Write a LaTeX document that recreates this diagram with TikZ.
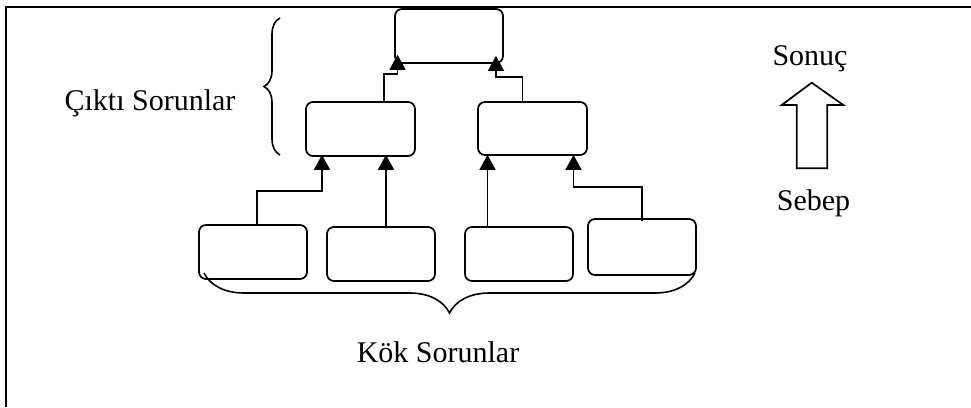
\documentclass[tikz,border=0pt]{standalone}
\usepackage{fontspec}
\setmainfont{Liberation Serif}
\usetikzlibrary{arrows.meta,decorations.pathreplacing}
\begin{document}
\begin{tikzpicture}[x=1pt,y=-1pt,
  pbox/.style={draw,line width=1.7pt,rounded corners=7pt,inner sep=0pt},
  conn/.style={line width=1.6pt,-{Triangle[width=16pt,length=15pt]}},
  brc/.style={line width=1.6pt,decorate,decoration={brace,amplitude=#1}},
  lbl/.style={font=\fontsize{30}{36}\selectfont,anchor=base,inner sep=0pt}]
\useasboundingbox (0,0) rectangle (971,407);
% frame (top and left visible)
\draw[line width=2.2pt] (5.8,407) -- (5.8,7) -- (971,7);
% boxes
\node[pbox,minimum width=108pt,minimum height=54pt] (top) at (449,36) {};
\node[pbox,minimum width=109pt,minimum height=54pt] (ml) at (360.5,129) {};
\node[pbox,minimum width=109pt,minimum height=53pt] (mr) at (532.5,128.5) {};
\node[pbox,minimum width=108pt,minimum height=54pt] (b1) at (253,252) {};
\node[pbox,minimum width=108pt,minimum height=54pt] (b2) at (381,254) {};
\node[pbox,minimum width=108pt,minimum height=54pt] (b3) at (519,254) {};
\node[pbox,minimum width=108pt,minimum height=56pt] (b4) at (642,247) {};
% connectors
\draw[conn,shorten >=-2pt] ([xshift=4pt,yshift=-2pt]b1.north) -- ++(0,-35) -| ([xshift=-38.5pt]ml.south);
\draw[conn,shorten >=-2pt] ([xshift=5pt]b2.north) -- ([xshift=25.5pt]ml.south);
\draw[conn,shorten >=-1pt] ([xshift=-31.5pt]b3.north) -- ([xshift=-45pt]mr.south);
\draw[conn,shorten >=-1pt] ([xshift=0pt,yshift=-3pt]b4.north) -- ++(0,-34) -| ([xshift=41pt]mr.south);
\draw[conn,shorten >=-9pt] ([xshift=23.5pt]ml.north) -- ++(0,-27) -| ([xshift=-51.5pt]top.south);
\draw[conn,shorten >=-8pt] ([xshift=-10pt]mr.north) -- ++(0,-24) -| ([xshift=47pt]top.south);
% braces
\draw[brc=16pt] (280,155) -- (280,18);
\draw[brc=40pt] (695,273) -- (204,273);
% labels
\node[lbl] (out) at (150,110) {Çıktı Sorunlar};
\node[lbl] (root) at (438,362) {Kök Sorunlar};
\node[lbl] (res) at (810,65) {Sonuç};
\node[lbl] (cause) at (813.5,210) {Sebep};
% block arrow
\draw[line width=1.7pt] (811.7,82.7) -- (843.3,105) -- (827.3,105) -- (827.3,168.3)
  -- (796.7,168.3) -- (796.7,105) -- (781.7,105) -- cycle;
\end{tikzpicture}
\end{document}
